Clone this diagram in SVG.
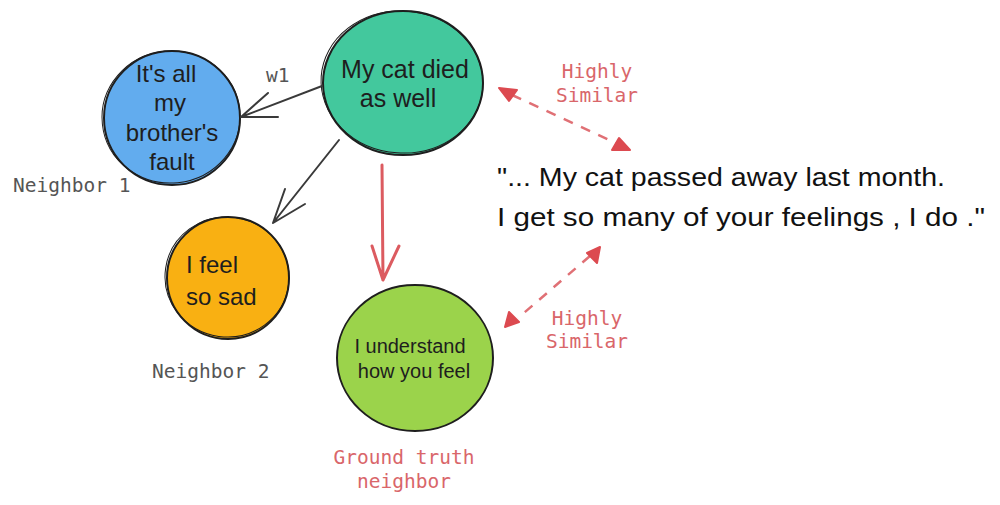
<svg xmlns="http://www.w3.org/2000/svg" width="1000" height="505" viewBox="0 0 1000 505">
<style>
.node{stroke:#1e1e1e;stroke-width:2}
.sk{fill:none;stroke:#1e1e1e;stroke-width:1}
.nt{font-family:"Liberation Sans","Noto Sans",sans-serif;fill:#1e1e1e;text-anchor:middle}
.mono{font-family:"DejaVu Sans Mono","Liberation Mono",monospace;font-size:19.5px}
.gray{fill:#555}
.red{fill:#d9666a}
.blk{stroke:#3a3a3a;stroke-width:2;fill:none;stroke-linecap:round}
.rd{stroke:#dc5b60;stroke-width:3;fill:none;stroke-linecap:round}
.rdd{stroke:#e07075;stroke-width:2.5;fill:none;stroke-dasharray:10 9}
.tri{fill:#dc4a50;stroke:#dc4a50;stroke-width:2;stroke-linejoin:round}
.quote{font-family:"Liberation Sans","Noto Sans",sans-serif;font-size:25px;fill:#111}
</style>
<rect width="1000" height="505" fill="#fff"/>

<g id="node-brother">
<ellipse class="node" cx="172" cy="118" rx="68" ry="67" fill="#62acee"/>
<ellipse class="sk" cx="171" cy="117" rx="69" ry="66" transform="rotate(-6 171 117)"/>
<text class="nt" font-size="24"><tspan x="166" y="82">It's all</tspan><tspan x="170" y="111">my</tspan><tspan x="172" y="141">brother's</tspan><tspan x="172" y="170">fault</tspan></text>
</g>

<g id="node-cat">
<ellipse class="node" cx="403" cy="83" rx="80" ry="72" fill="#43c89d"/>
<ellipse class="sk" cx="402" cy="82" rx="81" ry="71" transform="rotate(4 402 82)"/>
<text class="nt" font-size="25"><tspan x="405" y="78">My cat died</tspan><tspan x="398" y="107">as well</tspan></text>
</g>

<g id="node-sad">
<ellipse class="node" cx="228" cy="278" rx="61" ry="61" fill="#f9b012"/>
<ellipse class="sk" cx="227" cy="277" rx="62" ry="60" transform="rotate(8 227 277)"/>
<text class="nt" font-size="24" style="text-anchor:start"><tspan x="186" y="273">I feel</tspan><tspan x="186" y="305">so sad</tspan></text>
</g>

<g id="node-understand">
<ellipse class="node" cx="415" cy="358" rx="78" ry="73" fill="#9bd34b"/>
<text class="nt" font-size="20"><tspan x="410" y="353">I understand</tspan><tspan x="414" y="378">how you feel</tspan></text>
</g>

<g id="connectors">
<path class="blk" d="M322 86 L241 117 M241 117 L268 93 M241 117 L278 117"/>
<path class="blk" d="M339 140 L273 223 M273 223 L285 189 M273 223 L305 204"/>
<path class="rd" d="M382 165 L383 280 M383 280 L372 246 M383 280 L399 246"/>
<path class="rdd" d="M512 95 L618 144"/>
<polygon class="tri" points="499,88 517,90 509,101"/>
<polygon class="tri" points="630,150 612,150 619,138"/>
<path class="rdd" d="M590 256 L518 318"/>
<polygon class="tri" points="600,247 597,263 587,253"/>
<polygon class="tri" points="505,327 509,312 519,322"/>
</g>

<g id="labels">
<text class="mono gray" x="266" y="82">w1</text>
<text class="mono gray" x="13" y="192">Neighbor 1</text>
<text class="mono gray" x="152" y="378">Neighbor 2</text>
<text class="mono red" text-anchor="middle"><tspan x="597" y="78">Highly</tspan><tspan x="597" y="102">Similar</tspan></text>
<text class="mono red" text-anchor="middle"><tspan x="587" y="325">Highly</tspan><tspan x="587" y="348">Similar</tspan></text>
<text class="mono red" text-anchor="middle"><tspan x="404" y="464">Ground truth</tspan><tspan x="404" y="488">neighbor</tspan></text>
<text class="quote" x="497" y="186" textLength="448" lengthAdjust="spacingAndGlyphs">"... My cat passed away last month.</text>
<text class="quote" x="497" y="226" textLength="488" lengthAdjust="spacingAndGlyphs">I get so many of your feelings , I do ."</text>
</g>
</svg>
